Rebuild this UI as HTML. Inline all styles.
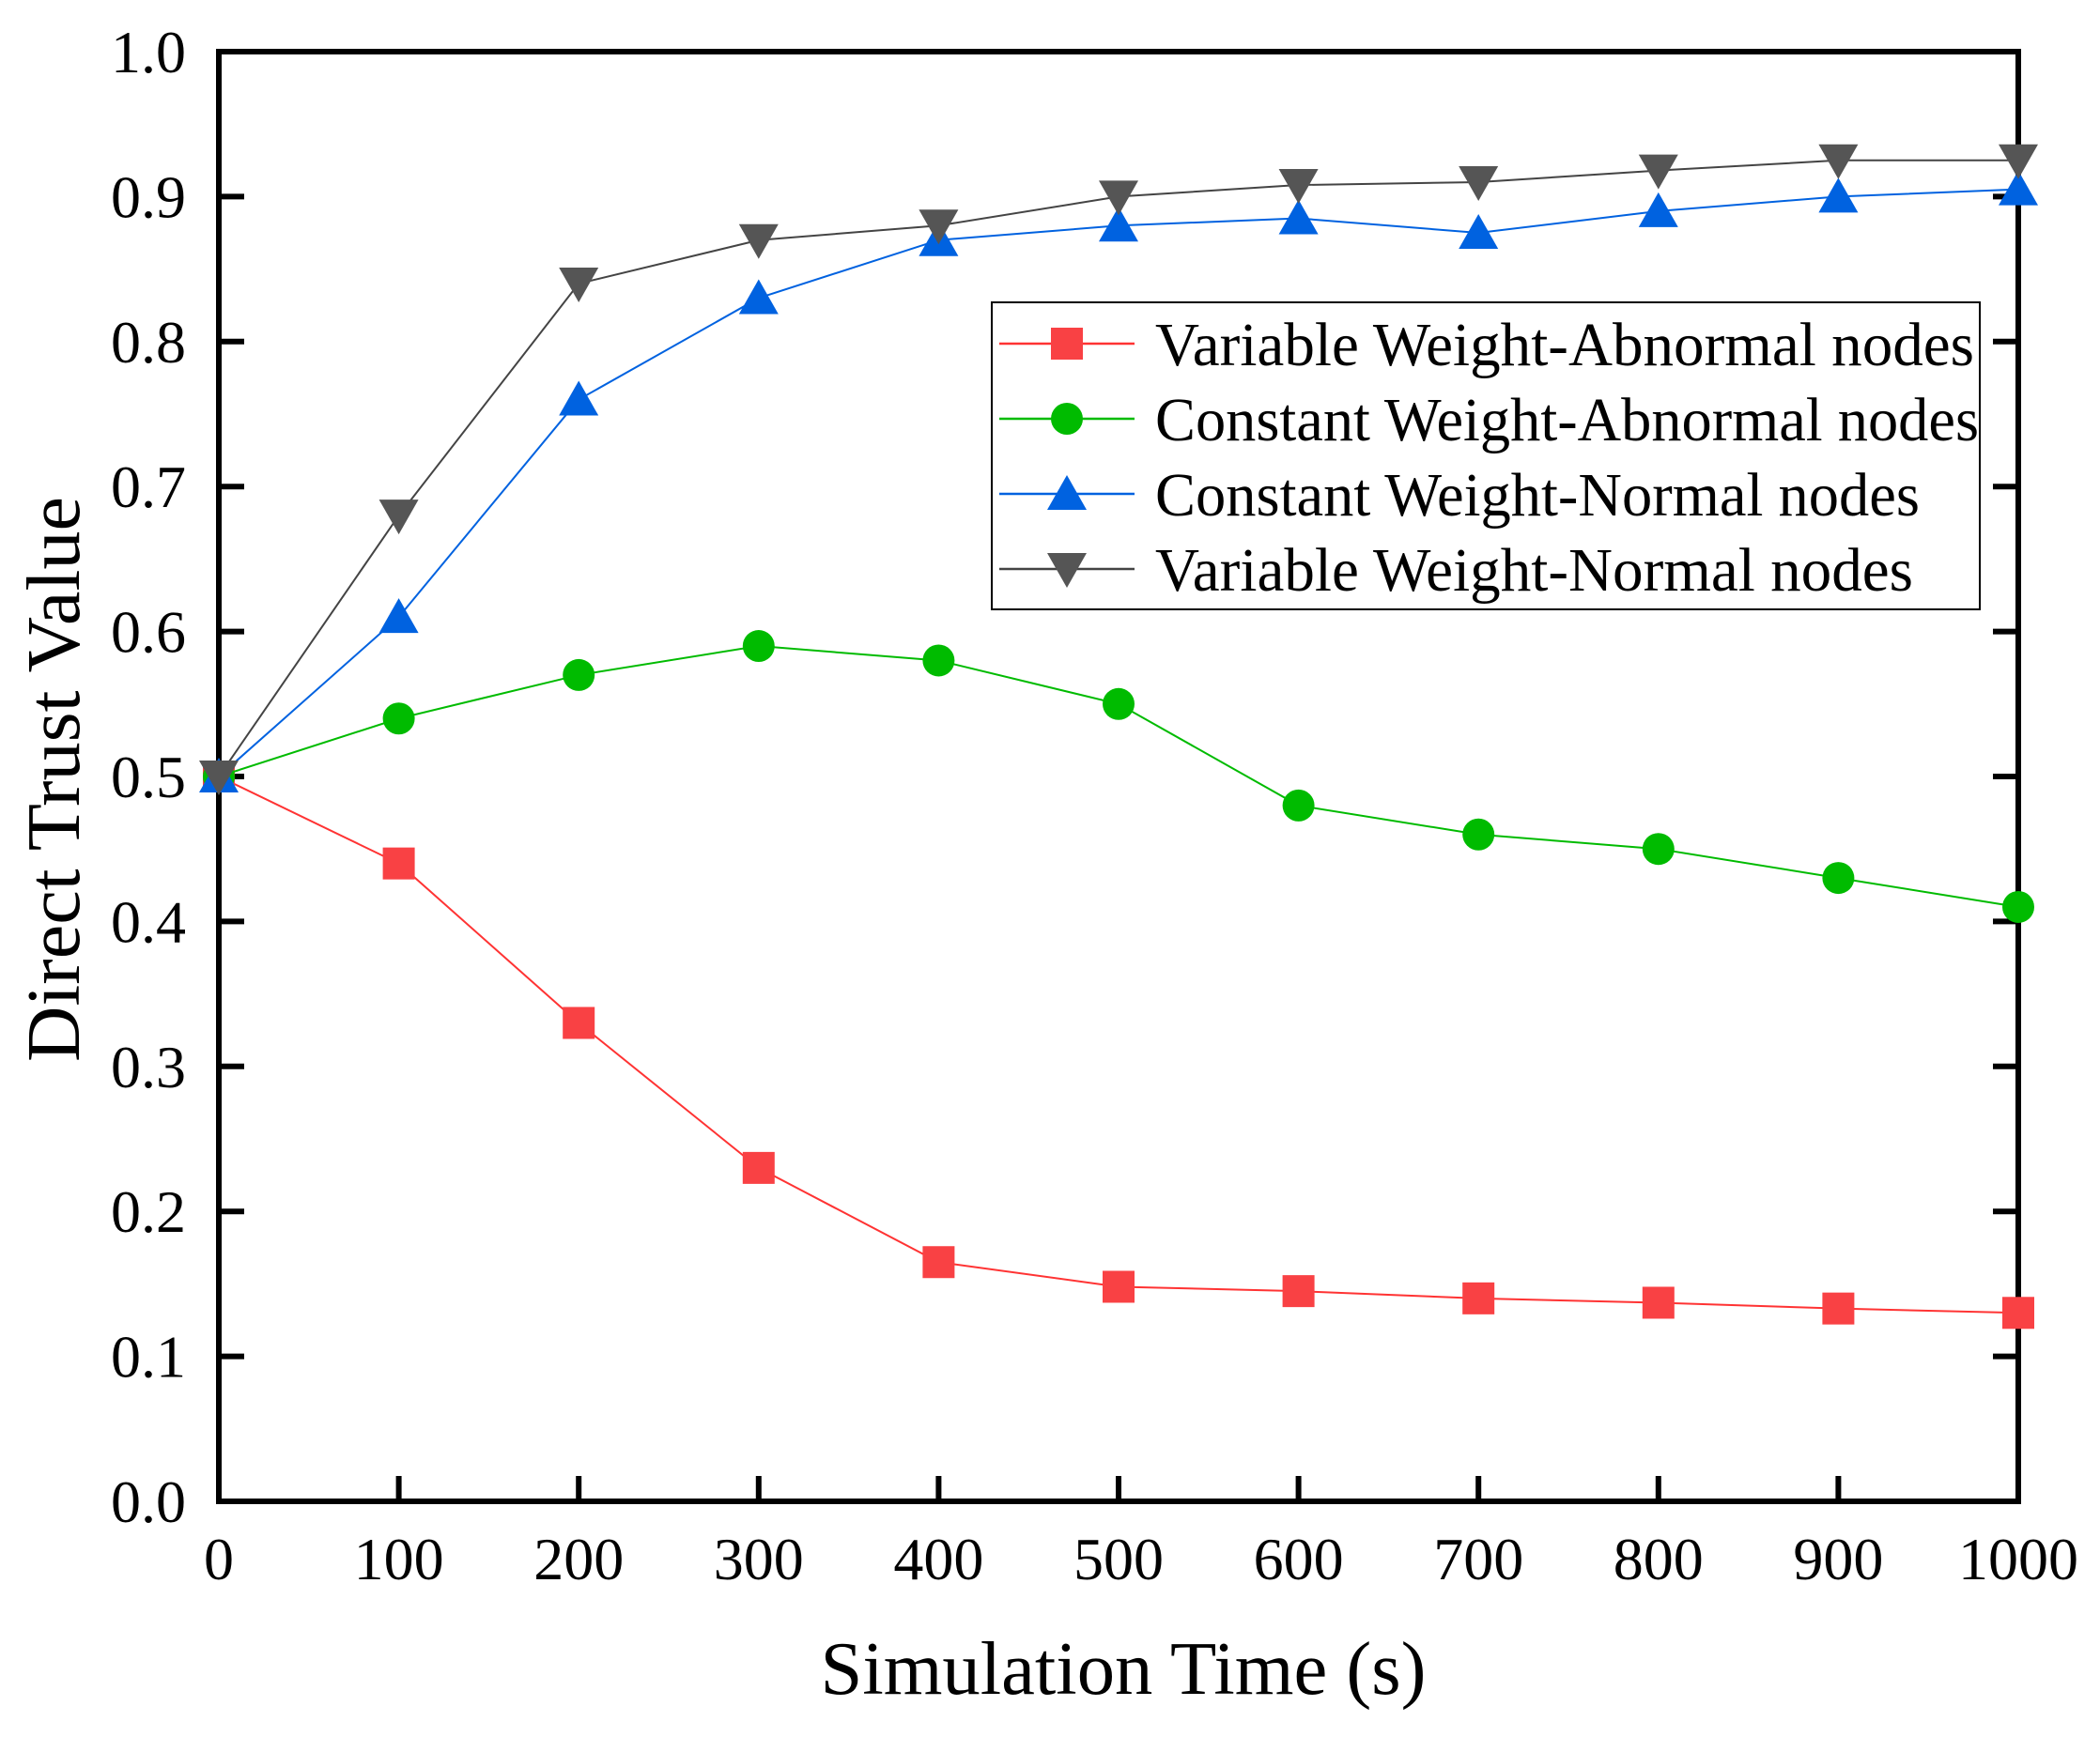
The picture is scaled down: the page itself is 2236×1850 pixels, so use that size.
<!DOCTYPE html>
<html><head><meta charset="utf-8"><style>
html,body{margin:0;padding:0;background:#fff}
svg{display:block}
text{font-family:"Liberation Serif","Times New Roman",serif;fill:#000}
</style></head><body>
<svg id="chart" width="2236" height="1850" viewBox="0 0 2236 1850" xmlns="http://www.w3.org/2000/svg">
<g id="grid"></g>
<g id="series"></g>
<g id="legend"></g>
<text x="1196" y="1804" font-size="80" text-anchor="middle" textLength="645" lengthAdjust="spacingAndGlyphs">Simulation Time (s)</text>
<text x="0" y="0" font-size="80" text-anchor="middle" textLength="602" lengthAdjust="spacingAndGlyphs" transform="translate(84,830) rotate(-90)">Direct Trust Value</text>
</svg>
<script>
const xValues = [0,100,200,300,400,500,600,700,800,900,1000];
const xTickLabels = ["0","100","200","300","400","500","600","700","800","900","1000"];
const yTickValues = [0,0.1,0.2,0.3,0.4,0.5,0.6,0.7,0.8,0.9,1.0];
const yTickLabels = ["0.0","0.1","0.2","0.3","0.4","0.5","0.6","0.7","0.8","0.9","1.0"];
const seriesNames = ["Variable Weight-Abnormal nodes","Constant Weight-Abnormal nodes","Constant Weight-Normal nodes","Variable Weight-Normal nodes"];
const redValues = [0.5,0.44,0.33,0.23,0.165,0.148,0.145,0.14,0.137,0.133,0.13];
const greenValues = [0.5,0.54,0.57,0.59,0.58,0.55,0.48,0.46,0.45,0.43,0.41];
const blueValues = [0.5,0.61,0.76,0.83,0.87,0.88,0.885,0.875,0.89,0.90,0.905];
const grayValues = [0.5,0.68,0.84,0.87,0.88,0.90,0.908,0.91,0.918,0.925,0.925];

const NS = "http://www.w3.org/2000/svg";
const X0 = 233, X1 = 2149, Y0 = 1599, Y1 = 55;
const legendWidths = [872,877,814,807];
function xs(v){ return X0 + (v-0)/(1000-0)*(X1-X0); }
function ys(v){ return Y0 - (v-0)/(1-0)*(Y0-Y1); }
function mk(tag, attrs, parent){
  const e = document.createElementNS(NS, tag);
  for (const k in attrs) e.setAttribute(k, attrs[k]);
  parent.appendChild(e);
  return e;
}
const grid = document.getElementById('grid');
const ser = document.getElementById('series');
const leg = document.getElementById('legend');

xValues.forEach((v,i)=>{
  const x = xs(v);
  if (i>0 && i<xValues.length-1){
    const t = mk('line',{x1:x,x2:x,y1:Y0,y2:Y0-27,stroke:'#000','stroke-width':6},grid);
    
    
  }
  const lb = mk('text',{x:x,y:1682,'font-size':64,'text-anchor':'middle'},grid);
  lb.textContent = xTickLabels[i];
  
  
});
yTickValues.forEach((v,i)=>{
  const y = ys(v);
  if (i>0 && i<yTickValues.length-1){
    const t = mk('line',{x1:X0,x2:X0+27,y1:y,y2:y,stroke:'#000','stroke-width':6},grid);
    
    
    const t2 = mk('line',{x1:X1,x2:X1-27,y1:y,y2:y,stroke:'#000','stroke-width':6},grid);
    
    
  }
  const lb = mk('text',{x:198,y:y+22,'font-size':64,'text-anchor':'end'},grid);
  lb.textContent = yTickLabels[i];
  
  
});

function marker(type, cx, cy, color, parent){
  let m;
  if (type==='square') m = mk('rect',{x:cx-17,y:cy-17,width:34,height:34,fill:color},parent);
  else if (type==='circle') m = mk('circle',{cx:cx,cy:cy,r:17,fill:color},parent);
  else if (type==='up') m = mk('polygon',{points:`${cx},${cy-20} ${cx-21},${cy+17} ${cx+21},${cy+17}`,fill:color},parent);
  else m = mk('polygon',{points:`${cx},${cy+20} ${cx-21},${cy-17} ${cx+21},${cy-17}`,fill:color},parent);
  return m;
}
const seriesDefs = [
  {vals:redValues,color:'#f94144',line:'#ff3333',mark:'square',key:'red'},
  {vals:greenValues,color:'#00bb00',line:'#00bb00',mark:'circle',key:'green'},
  {vals:blueValues,color:'#0062e0',line:'#0062e0',mark:'up',key:'blue'},
  {vals:grayValues,color:'#555555',line:'#444444',mark:'down',key:'gray'}
];
seriesDefs.forEach((s,si)=>{
  const g = mk('g',{},ser);
  
  
  const pts = s.vals.map((v,i)=>xs(xValues[i])+','+ys(v)).join(' ');
  const pl = mk('polyline',{points:pts,fill:'none',stroke:s.line,'stroke-width':2},g);
  
  
  s.vals.forEach((v,i)=>{
    const m = marker(s.mark, xs(xValues[i]), ys(v), s.color, g);
    
    
  });
  const cy = 366 + si*80;
  const ll = mk('line',{x1:1064,x2:1208,y1:cy,y2:cy,stroke:s.line,'stroke-width':2.5},leg);
  
  
  const lm = marker(s.mark,1136,cy,s.color,leg);
  
  
  const lt = mk('text',{x:1230,y:cy+23,'font-size':66,textLength:legendWidths[si],lengthAdjust:'spacingAndGlyphs'},leg);
  lt.textContent = seriesNames[si];
  
  
});
const box = mk('rect',{x:1056,y:322,width:1052,height:327,fill:'none',stroke:'#000','stroke-width':2},leg);


const frame = mk('rect',{x:X0,y:Y1,width:X1-X0,height:Y0-Y1,fill:'none',stroke:'#000','stroke-width':6},grid);


</script>
</body></html>
